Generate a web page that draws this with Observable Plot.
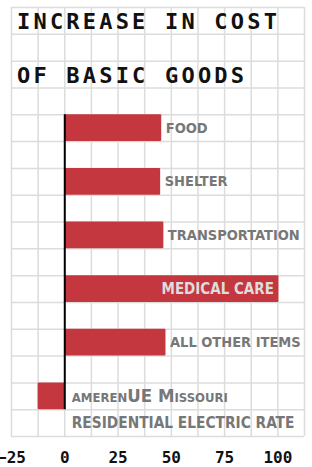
<!DOCTYPE html>
<html>
<head>
<meta charset="utf-8">
<script src="https://cdn.jsdelivr.net/npm/d3@7"></script>
<script src="https://cdn.jsdelivr.net/npm/@observablehq/plot@0.6"></script>
<style>
  body { margin: 0; background: #fff; }
  #wrap { position: relative; width: 312px; height: 467px; overflow: hidden; }
  #title { position: absolute; left: 17px; top: 0; font-family: "DejaVu Sans Mono", monospace; font-weight: bold;
    font-size: 22px; letter-spacing: 3.2px; color: #111; line-height: 54px; margin-top: -5px; white-space: nowrap; }
  svg { display: block; }
</style>
</head>
<body>
<div id="wrap"><div id="title">INCREASE IN COST<br>OF BASIC GOODS</div></div>
<script>
const categories = ["FOOD", "SHELTER", "TRANSPORTATION", "MEDICAL CARE", "ALL OTHER ITEMS", "amerenUE Missouri"];
const values = [45.5, 45, 46.5, 100.5, 47.5, -12.5];
const subLabels = ["", "", "", "", "", "RESIDENTIAL ELECTRIC RATE"];
const xTicks = [-25, 0, 25, 50, 75, 100];

const data = categories.map((name, i) => ({name, value: values[i], sub: subLabels[i], row: 4 + 2 * i}));
const labelFont = "DejaVu Sans Condensed, sans-serif";
const inside = data.filter(d => d.value > 90);
const outside = data.filter(d => d.value > 0 && d.value <= 90);
const negative = data.filter(d => d.value < 0);

const chart = Plot.plot({
  width: 312,
  height: 467,
  marginLeft: 11,
  marginRight: 8,
  marginTop: 7,
  marginBottom: 31,
  x: {domain: [-25, 112.5]},
  y: {domain: [0, 16], reverse: true, axis: null},
  style: {background: "transparent", overflow: "visible"},
  marks: [
    Plot.gridX({ticks: d3.range(-25, 113, 12.5), stroke: "#dcdcdc", strokeOpacity: 1, strokeWidth: 1.5}),
    Plot.gridY({ticks: d3.range(0, 17), stroke: "#dcdcdc", strokeOpacity: 1, strokeWidth: 1.5}),
    Plot.rectX(data, {x1: 0, x2: "value", y1: "row", y2: d => d.row + 1, fill: "#c4373f", rx: 1}),
    Plot.ruleX([0], {y1: d3.min(data, d => d.row), y2: d3.max(data, d => d.row) + 1, stroke: "#000", strokeWidth: 2}),
    Plot.text(outside, {x: "value", y: d => d.row + 0.5, text: "name", textAnchor: "start", dx: 4,
      fill: "#777", fontSize: 14.5, fontWeight: "bold", fontFamily: labelFont}),
    Plot.text(inside, {x: "value", y: d => d.row + 0.5, text: "name", textAnchor: "end", dx: -5,
      fill: "#ddd", fontSize: 15, fontWeight: "bold", fontFamily: labelFont}),
    Plot.text(negative, {x: 0, y: d => d.row + 0.5, text: "name", textAnchor: "start", dx: 7,
      fill: "#777", fontSize: 18.5, fontWeight: "bold", fontFamily: labelFont, fontVariant: "small-caps"}),
    Plot.text(negative, {x: 0, y: d => d.row + 1.5, text: "sub", textAnchor: "start", dx: 7,
      fill: "#777", fontSize: 15.3, fontWeight: "bold", fontFamily: labelFont}),
    Plot.axisX({ticks: xTicks, tickSize: 0, tickPadding: 15, fontSize: 16, fontWeight: "bold",
      fontFamily: "DejaVu Sans Mono, monospace", fill: "#111", label: null})
  ]
});
document.getElementById("wrap").prepend(chart);
chart.style.position = "absolute";
chart.style.left = "0";
chart.style.top = "0";
document.getElementById("title").style.zIndex = 2;
</script>
</body>
</html>
